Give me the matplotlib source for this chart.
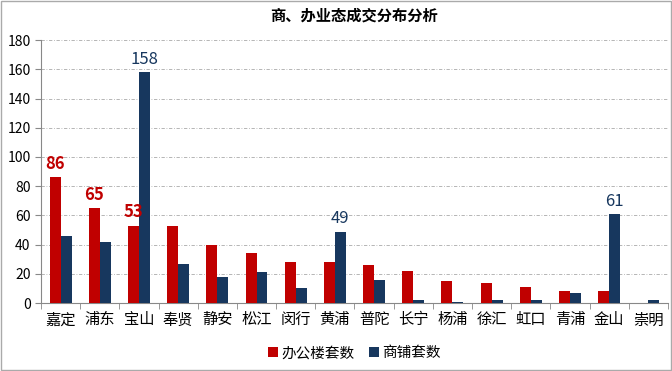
import matplotlib
matplotlib.use("Agg")
import matplotlib.pyplot as plt
import numpy as np

plt.rcParams['font.family'] = ['Noto Sans CJK SC', 'DejaVu Sans']

districts = ["嘉定", "浦东", "宝山", "奉贤", "静安", "松江", "闵行", "黄浦",
             "普陀", "长宁", "杨浦", "徐汇", "虹口", "青浦", "金山", "崇明"]
office = [86, 65, 53, 53, 40, 34, 28, 28, 26, 22, 15, 14, 11, 8, 8, 0]
shop = [46, 42, 158, 27, 18, 21, 10, 49, 16, 2, 1, 2, 2, 7, 61, 2]
office_labeled = ["嘉定", "浦东", "宝山"]
shop_labeled = ["宝山", "黄浦", "金山"]

red = "#C00000"
navy = "#17375E"

fig = plt.figure(figsize=(6.72, 3.71), dpi=100)
ax = fig.add_axes([0.061, 0.183, 0.933, 0.709])

x = np.arange(len(districts))
w = 0.28
ax.bar(x - w / 2, office, w, color=red, label="办公楼套数", zorder=3)
ax.bar(x + w / 2, shop, w, color=navy, label="商铺套数", zorder=3)

for i, d in enumerate(districts):
    if d in office_labeled:
        ax.text(x[i] - w / 2, office[i] + 3, str(office[i]), color=red,
                fontsize=12, fontweight="bold", ha="center", va="bottom")
    if d in shop_labeled:
        ax.text(x[i] + w / 2, shop[i] + 3, str(shop[i]), color=navy,
                fontsize=12, ha="center", va="bottom")

ax.set_xlim(-0.5, len(districts) - 0.5)
ax.set_ylim(0, 180)
ax.set_yticks(range(0, 181, 20))
ax.set_xticks(x)
ax.set_xticklabels(districts, fontsize=11)
ax.set_xticks(np.arange(-0.5, len(districts), 1), minor=True)
ax.tick_params(axis="x", which="major", length=0, pad=6)
ax.tick_params(axis="x", which="minor", length=4, color="#888888")
ax.tick_params(axis="y", length=4, color="#888888", labelsize=10)

ax.grid(axis="y", linestyle=(0, (4, 2, 1, 2)), color="#AAAAAA", linewidth=0.6, zorder=0)
for s in ["top", "right"]:
    ax.spines[s].set_visible(False)
ax.spines["left"].set_color("#888888")
ax.spines["bottom"].set_color("#888888")

ax.set_title("商、办业态成交分布分析", fontsize=11, fontweight="bold", pad=14)

ax.legend(loc="upper center", bbox_to_anchor=(0.5, -0.115), ncol=2, frameon=False,
          fontsize=10.5, handlelength=0.7, handleheight=0.7, handletextpad=0.2,
          columnspacing=1.0)

fig.patches.append(plt.Rectangle((0.002, 0.003), 0.996, 0.994, transform=fig.transFigure,
                                 fill=False, edgecolor="#AAAAAA", linewidth=1))

fig.savefig("out.png", dpi=100)
